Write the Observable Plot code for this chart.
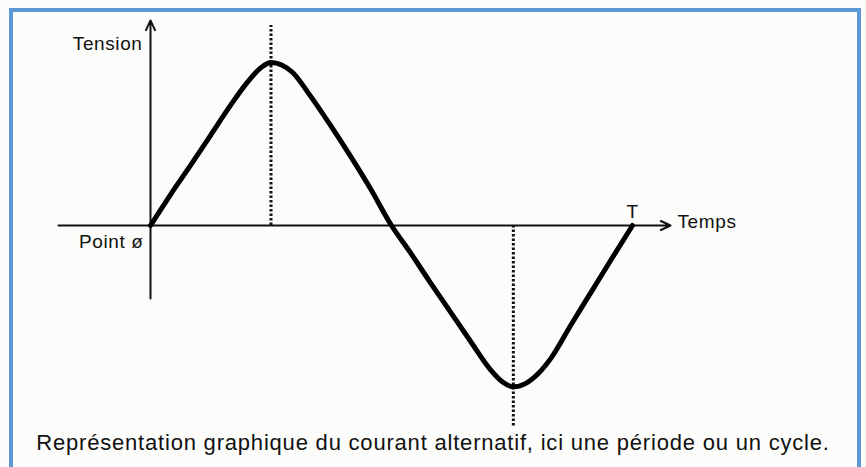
<!DOCTYPE html>
<html>
<head>
<meta charset="utf-8">
<script src="https://cdn.jsdelivr.net/npm/d3@7"></script>
<script src="https://cdn.jsdelivr.net/npm/@observablehq/plot@0.6"></script>
<style>
  html, body { margin: 0; padding: 0; background: #fcfcfa; overflow: hidden; width: 866px; height: 467px; }
  #frame { position: absolute; left: 9px; top: 8px; width: 844px; height: 480px; border: 4px solid #5b9bd5; }
  #chart { position: absolute; left: 0; top: 0; }
  #caption { position: absolute; left: 0; top: 430px; width: 866px; text-align: center; letter-spacing: 0.8px;
             font: 22px "Liberation Sans", Arial, sans-serif; color: #111; }
</style>
</head>
<body>
<div id="frame"></div>
<div id="chart"></div>
<div id="caption"></div>
<script>
// Phase (degrees over one period) and tension (relative to the peak)
const phase   = [0, 15, 30, 45, 60, 72, 82, 90, 98, 106, 119, 134, 149, 164, 180,
                 194, 209, 224, 239, 254, 263, 271, 280, 290, 299, 314, 329, 344, 360];
const tension = [0, 0.19, 0.37, 0.555, 0.74, 0.875, 0.965, 1.0, 0.985, 0.94, 0.80, 0.62, 0.43, 0.23, 0,
                 -0.165, -0.35, -0.53, -0.71, -0.885, -0.96, -0.99, -0.97, -0.905, -0.815, -0.61, -0.41, -0.21, 0];

// Axis extents and guide extents, in data units
const xAxisExtent = [-68.7, 388.4];
const yAxisExtent = [-0.448, 1.258];
const peakGuideTop = 1.227;
const troughGuideBottom = -1.239;

// Texts
const yLabel = "Tension";
const xLabel = "Temps";
const originLabel = "Point ø";
const periodLabel = "T";
const captionText = "Représentation graphique du courant alternatif, ici une période ou un cycle.";

const data = phase.map((p, i) => ({phase: p, tension: tension[i]}));
const peak = data.reduce((a, b) => (b.tension > a.tension ? b : a));
const trough = data.reduce((a, b) => (b.tension < a.tension ? b : a));
const periodEnd = phase[phase.length - 1];

const font = "Liberation Sans, Arial, Helvetica, sans-serif";

const chart = Plot.plot({
  width: 866,
  height: 420,
  marginLeft: 150,
  marginRight: 234,
  marginTop: 62,
  marginBottom: 32,
  x: {domain: [0, 360], axis: null},
  y: {domain: [-1, 1], axis: null},
  style: {background: "transparent", overflow: "visible", fontFamily: font, color: "#111", letterSpacing: "0.6px"},
  marks: [
    Plot.ruleX([peak], {x: "phase", y1: 0, y2: peakGuideTop, stroke: "#111", strokeWidth: 3, strokeDasharray: "2.5,2"}),
    Plot.ruleX([trough], {x: "phase", y1: 0, y2: troughGuideBottom, stroke: "#111", strokeWidth: 3, strokeDasharray: "2.5,2"}),
    Plot.arrow([{x1: xAxisExtent[0], x2: xAxisExtent[1], y1: 0, y2: 0}],
      {x1: "x1", x2: "x2", y1: "y1", y2: "y2", stroke: "#111", strokeWidth: 2, headLength: 8, headAngle: 50}),
    Plot.arrow([{x1: 0, x2: 0, y1: yAxisExtent[0], y2: yAxisExtent[1]}],
      {x1: "x1", x2: "x2", y1: "y1", y2: "y2", stroke: "#111", strokeWidth: 2, headLength: 8, headAngle: 50}),
    Plot.line(data, {x: "phase", y: "tension", stroke: "#000", strokeWidth: 5, curve: "monotone-x", strokeLinecap: "round"}),
    Plot.text([yLabel], {x: 0, y: 1.113, text: d => d, textAnchor: "end", dx: -8, fontSize: 19, fill: "#111"}),
    Plot.text([originLabel], {x: 0, y: 0, text: d => d, textAnchor: "end", dx: -7, dy: 16, fontSize: 19, fill: "#111"}),
    Plot.text([periodLabel], {x: periodEnd, y: 0, text: d => d, textAnchor: "middle", dy: -14, fontSize: 19, fill: "#111"}),
    Plot.text([xLabel], {x: xAxisExtent[1], y: 0, text: d => d, textAnchor: "start", dx: 7, dy: -4, fontSize: 19, fill: "#111"})
  ]
});
document.getElementById("chart").appendChild(chart);
document.getElementById("caption").textContent = captionText;
</script>
</body>
</html>
